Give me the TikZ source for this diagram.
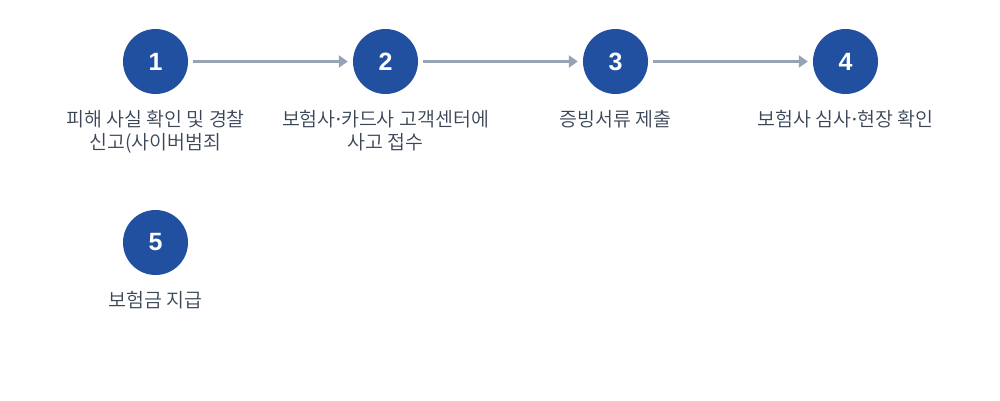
\documentclass[tikz,border=0pt]{standalone}
\usepackage{fontspec}
\newfontfamily\krfont{Noto Sans CJK KR DemiLight}
\newfontfamily\numfont{Liberation Sans}
\newfontfamily\dotfont{Noto Sans}
\usetikzlibrary{arrows.meta,positioning}
\definecolor{stepblue}{HTML}{2150A0}
\definecolor{linegray}{HTML}{96A3B5}
\definecolor{textgray}{HTML}{3A4556}
\newcommand{\mdot}{{\dotfont ·}}
\tikzset{num/.style={circle, fill=stepblue, minimum size=65pt, inner sep=0pt, text=white,
    font=\numfont\bfseries\fontsize{25}{25}\selectfont},
%labels under the circles
lbl/.style={text=textgray, align=center, anchor=north, inner sep=0pt,
    font=\krfont\fontsize{19.5}{23}\selectfont},
link/.style={draw=linegray, line width=3pt, -{Triangle[length=9pt,width=12pt]},
    shorten <=5pt, shorten >=5pt}}

\begin{document}
\begin{tikzpicture}[x=1pt, y=-1pt]
\useasboundingbox (0,0) rectangle (1000,400);

\node[num] (c1) at (155.5,61.5) {1};
\node[num] (c2) at (385.5,61.5) {2};
\node[num] (c3) at (615.5,61.5) {3};
\node[num] (c4) at (845.5,61.5) {4};
\node[num] (c5) at (155.5,242.5) {5};

\node[lbl, below=16pt of c1] (l1) {피해 사실 확인 및 경찰\\신고(사이버범죄};
\node[lbl, below=16pt of c2] (l2) {보험사\mdot 카드사 고객센터에\\사고 접수};
\node[lbl, below=16pt of c3] (l3) {증빙서류 제출};
\node[lbl, below=16pt of c4] (l4) {보험사 심사\mdot 현장 확인};
\node[lbl, below=16pt of c5] (l5) {보험금 지급};

\draw[link] (c1) -- (c2);
\draw[link] (c2) -- (c3);
\draw[link] (c3) -- (c4);

\end{tikzpicture}
\end{document}
